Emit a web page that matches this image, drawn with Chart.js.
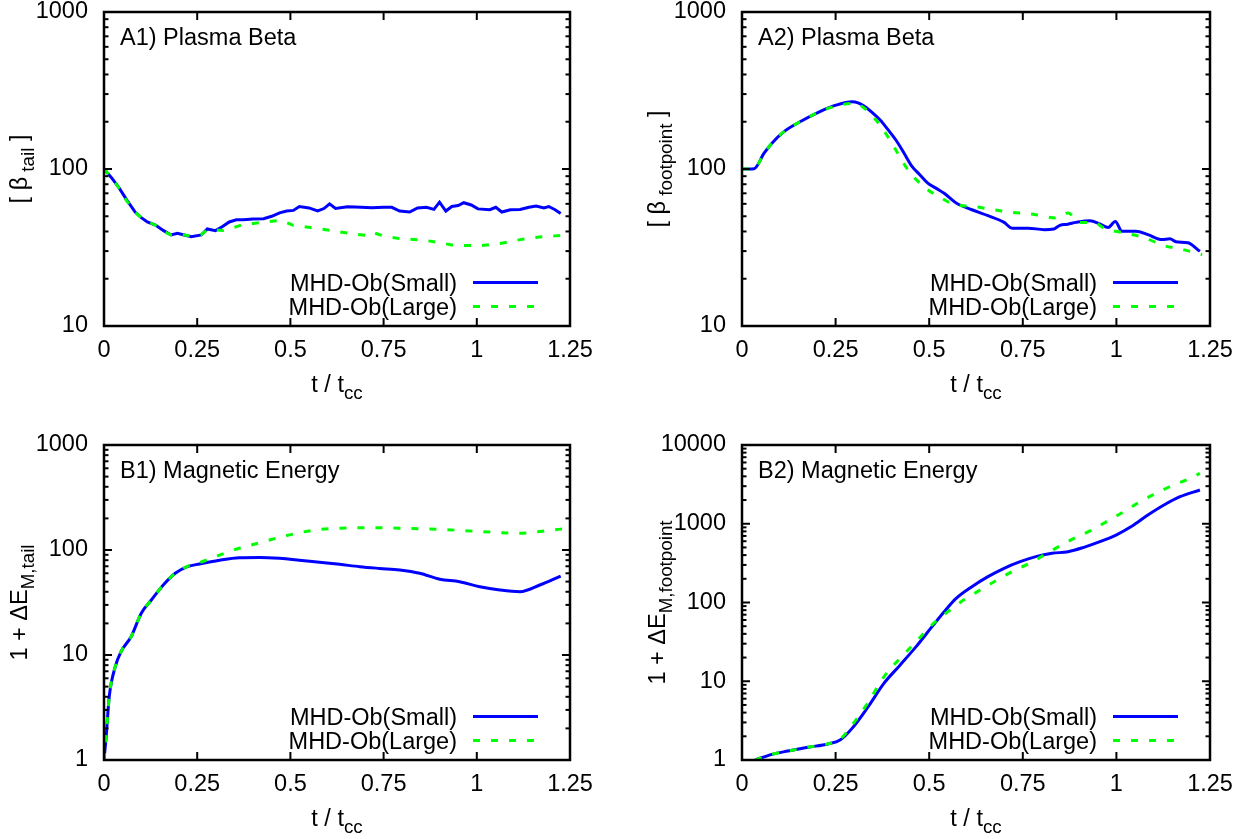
<!DOCTYPE html>
<html>
<head>
<meta charset="utf-8">
<title>Plasma beta and magnetic energy</title>
<script src="https://cdn.jsdelivr.net/npm/chart.js@4.4.1/dist/chart.umd.min.js"></script>
<style>
  html, body { margin: 0; padding: 0; background: #fff; }
  #wrap { position: relative; width: 1238px; height: 839px; overflow: hidden; }
  canvas { position: absolute; }
</style>
</head>
<body>
<div id="wrap">
  <canvas id="chartA1" width="619" height="420" style="left:0;top:0"></canvas>
  <canvas id="chartA2" width="619" height="420" style="left:619px;top:0"></canvas>
  <canvas id="chartB1" width="619" height="419" style="left:0;top:420px"></canvas>
  <canvas id="chartB2" width="619" height="419" style="left:619px;top:420px"></canvas>
</div>
<script>
// series labels and x ticks
const seriesLabels = ['MHD-Ob(Small)', 'MHD-Ob(Large)'];
const xTicks = [0, 0.25, 0.5, 0.75, 1, 1.25];

// A1) plasma beta, tail
const tA1Small = [0, 0.02, 0.04, 0.06, 0.084, 0.1, 0.116, 0.138, 0.16, 0.18, 0.197, 0.215, 0.234, 0.261, 0.277, 0.299, 0.318, 0.336, 0.355, 0.374, 0.4, 0.428, 0.45, 0.471, 0.49, 0.508, 0.524, 0.55, 0.573, 0.59, 0.605, 0.621, 0.653, 0.69, 0.718, 0.75, 0.772, 0.793, 0.82, 0.841, 0.865, 0.885, 0.9, 0.917, 0.933, 0.95, 0.965, 0.985, 1.003, 1.035, 1.051, 1.067, 1.09, 1.116, 1.14, 1.159, 1.18, 1.193, 1.21, 1.225];
const a1Small = [100, 88, 76, 64, 53, 49, 46, 44, 40.5, 38, 39, 38, 37, 38, 41.5, 40.5, 43, 46, 47.5, 47.5, 48, 48.2, 50, 52.6, 54, 54.5, 57.7, 56.5, 54, 56, 60, 56, 57.5, 57, 56.6, 57, 57, 54, 53.2, 56.5, 57, 55.3, 61.5, 54, 57.7, 58.5, 61, 59, 55.7, 55, 57, 53.2, 55, 55.3, 57, 58, 56.5, 57.7, 55, 52];
const tA1Large = [0, 0.02, 0.04, 0.06, 0.084, 0.1, 0.12, 0.14, 0.16, 0.18, 0.2, 0.23, 0.26, 0.277, 0.3, 0.32, 0.35, 0.374, 0.4, 0.428, 0.45, 0.476, 0.508, 0.557, 0.61, 0.664, 0.702, 0.718, 0.75, 0.793, 0.858, 0.9, 0.933, 0.97, 1.008, 1.062, 1.116, 1.169, 1.21, 1.25];
const a1Large = [100, 88, 76, 63, 53, 49, 46, 43.5, 40, 38, 38.5, 37.5, 38, 41, 41, 40.6, 42.5, 44.4, 45, 45.9, 46.5, 47, 43.8, 42.3, 40.6, 38.7, 37.8, 39.6, 37.5, 36, 35.2, 34, 32.8, 32.6, 32.4, 33.5, 35.5, 36.9, 37.5, 38];

// A2) plasma beta, footpoint
const tA2Small = [0, 0.032, 0.059, 0.08, 0.112, 0.155, 0.208, 0.251, 0.294, 0.31, 0.326, 0.345, 0.369, 0.39, 0.411, 0.433, 0.454, 0.475, 0.497, 0.52, 0.54, 0.572, 0.614, 0.657, 0.7, 0.721, 0.764, 0.807, 0.833, 0.849, 0.87, 0.892, 0.929, 0.956, 0.978, 0.997, 1.015, 1.052, 1.084, 1.122, 1.143, 1.159, 1.191, 1.223];
const a2Small = [100, 100.5, 126, 146, 173, 200, 232, 255, 268, 264, 252, 232, 205, 178, 153, 126, 104, 92, 81, 75, 70, 60.7, 55, 50.4, 45.7, 42, 42, 41.1, 41.5, 43.8, 44.5, 45.7, 46.9, 44.7, 42.4, 46.3, 40.1, 40.1, 38.2, 35.5, 35.9, 34.4, 33.9, 29.9];
const tA2Large = [0, 0.032, 0.059, 0.08, 0.112, 0.155, 0.208, 0.251, 0.294, 0.315, 0.337, 0.369, 0.39, 0.411, 0.443, 0.486, 0.529, 0.572, 0.614, 0.7, 0.785, 0.839, 0.871, 0.903, 0.94, 0.967, 1.02, 1.074, 1.127, 1.17, 1.229];
const a2Large = [100, 100.5, 126, 146, 173, 200, 232, 252, 261, 255, 232, 190, 160, 132, 99, 77, 66, 59, 57.8, 53.7, 51.2, 48.7, 52.5, 45.7, 45.7, 42, 39.2, 36.6, 32.5, 31, 28.5];

// B1) magnetic energy, tail
const tB1Small = [0, 0.006, 0.014, 0.03, 0.046, 0.073, 0.1, 0.127, 0.159, 0.191, 0.224, 0.256, 0.31, 0.363, 0.417, 0.471, 0.524, 0.578, 0.632, 0.686, 0.739, 0.793, 0.847, 0.901, 0.954, 1.008, 1.062, 1.116, 1.169, 1.225];
const b1Small = [1, 1.7, 4, 7.7, 10.8, 15, 25, 33.4, 46.4, 60, 69.4, 73.6, 80, 84.5, 85, 83.3, 80, 76.4, 73, 69.4, 66.8, 64.5, 60, 52.6, 49.9, 44.7, 41.6, 40.1, 46.4, 56.5];
const tB1Large = [0, 0.006, 0.014, 0.03, 0.046, 0.073, 0.1, 0.127, 0.159, 0.191, 0.224, 0.256, 0.31, 0.363, 0.417, 0.471, 0.524, 0.578, 0.632, 0.686, 0.739, 0.793, 0.901, 1.008, 1.116, 1.169, 1.245];
const b1Large = [1, 1.7, 4, 7.7, 10.8, 15, 25, 33.4, 46.4, 60, 70, 75.7, 89.5, 104, 117, 132, 146, 157, 161, 163, 163, 161, 157, 150, 144, 150, 161];

// B2) magnetic energy, footpoint
const tB2Small = [0.035, 0.08, 0.123, 0.176, 0.23, 0.262, 0.294, 0.337, 0.379, 0.422, 0.465, 0.507, 0.54, 0.572, 0.614, 0.657, 0.7, 0.743, 0.785, 0.828, 0.871, 0.913, 0.956, 0.999, 1.042, 1.084, 1.127, 1.17, 1.223];
const b2Small = [1.0, 1.18, 1.3, 1.45, 1.6, 1.79, 2.52, 4.75, 9.4, 16, 27.5, 49, 76.5, 113, 159, 213, 272, 330, 382, 421, 442, 502, 592, 719, 936, 1290, 1730, 2206, 2685];
const tB2Large = [0.035, 0.08, 0.123, 0.176, 0.23, 0.262, 0.294, 0.337, 0.379, 0.422, 0.465, 0.507, 0.55, 0.593, 0.636, 0.678, 0.721, 0.764, 0.807, 0.849, 0.892, 0.935, 0.978, 1.02, 1.063, 1.106, 1.148, 1.191, 1.223];
const b2Large = [1.0, 1.18, 1.3, 1.45, 1.6, 1.83, 2.78, 5.4, 11.4, 19.5, 31.8, 51.8, 76.5, 108, 144, 189, 246, 308, 401, 522, 672, 834, 1094, 1423, 1905, 2432, 3046, 3666, 4368];

const FONT = '"Liberation Sans", Arial, sans-serif';
const FS = 23.5;

// draws text made of [text, isSubscript] pieces, centred on x
function drawRich(ctx, parts, x, y) {
    const widths = parts.map(([txt, sub]) => {
        ctx.font = `${sub ? FS * 0.8 : FS}px ${FONT}`;
        return ctx.measureText(txt).width;
    });
    let cx = x - widths.reduce((a, b) => a + b, 0) / 2;
    parts.forEach(([txt, sub], i) => {
        ctx.font = `${sub ? FS * 0.8 : FS}px ${FONT}`;
        ctx.fillText(txt, cx, y + (sub ? FS * 0.3 : 0));
        cx += widths[i];
    });
}

// gnuplot-like frame: border, inward ticks, titles and legend
const gnuplotFrame = {
    id: 'gnuplotFrame',
    afterDatasetsDraw(chart, args, opts) {
        const { ctx, chartArea: a } = chart;
        const xs = chart.scales.x, ys = chart.scales.y;
        ctx.save();
        ctx.strokeStyle = '#000';
        ctx.fillStyle = '#000';

        ctx.lineWidth = 2;
        const tick = (x1, y1, x2, y2) => {
            ctx.beginPath(); ctx.moveTo(x1, y1); ctx.lineTo(x2, y2); ctx.stroke();
        };
        xs.ticks.forEach(t => {
            const px = xs.getPixelForValue(t.value);
            tick(px, a.bottom, px, a.bottom - 8);
            tick(px, a.top, px, a.top + 8);
        });
        ys.ticks.forEach(t => {
            for (let k = 1; k < 10; k++) {
                const v = t.value * k;
                if (v > ys.max) break;
                const py = ys.getPixelForValue(v);
                const len = k === 1 ? 8 : 4.5;
                tick(a.left, py, a.left + len, py);
                tick(a.right, py, a.right - len, py);
            }
        });

        ctx.lineWidth = 2.5;
        ctx.strokeRect(a.left, a.top, a.right - a.left, a.bottom - a.top);

        ctx.textBaseline = 'alphabetic';
        ctx.textAlign = 'left';
        ctx.font = `${FS}px ${FONT}`;
        ctx.fillText(opts.title, a.left + 16, a.top + 33);

        drawRich(ctx, opts.xTitle, (a.left + a.right) / 2, a.bottom + 66);

        ctx.save();
        ctx.translate(a.left - 77, (a.top + a.bottom) / 2);
        ctx.rotate(-Math.PI / 2);
        drawRich(ctx, opts.yTitle, 0, 0);
        ctx.restore();

        // legend, bottom right
        chart.data.datasets.forEach((ds, i) => {
            const ry = a.bottom - 43.5 + i * 24;
            ctx.font = `${FS}px ${FONT}`;
            ctx.textAlign = 'right';
            ctx.fillText(ds.label, a.right - 113, ry + 8);
            ctx.strokeStyle = ds.borderColor;
            ctx.lineWidth = ds.borderWidth;
            ctx.setLineDash(ds.borderDash || []);
            tick(a.right - 97, ry, a.right - 32, ry);
            ctx.setLineDash([]);
        });
        ctx.restore();
    }
};

function makeSeries(t, v) {
    return t.map((x, i) => ({ x: x, y: v[i] }));
}

function buildPanel(id, cfg) {
    const ctx = document.getElementById(id).getContext('2d');
    return new Chart(ctx, {
        type: 'line',
        data: {
            datasets: [
                {
                    label: seriesLabels[0],
                    data: makeSeries(cfg.tSmall, cfg.small),
                    borderColor: '#0000ff',
                    borderWidth: 3,
                    cubicInterpolationMode: cfg.smooth ? 'monotone' : 'default',
                    tension: 0,
                    order: 1
                },
                {
                    label: seriesLabels[1],
                    data: makeSeries(cfg.tLarge, cfg.large),
                    borderColor: '#00ff00',
                    borderWidth: 3,
                    borderDash: [7, 11],
                    cubicInterpolationMode: cfg.smooth ? 'monotone' : 'default',
                    tension: 0,
                    order: 0
                }
            ]
        },
        options: {
            responsive: false,
            animation: false,
            devicePixelRatio: 1,
            elements: { point: { radius: 0 } },
            layout: { padding: { left: 0, right: cfg.padRight, top: cfg.padTop, bottom: 0 } },
            plugins: {
                legend: { display: false },
                tooltip: { enabled: false },
                gnuplotFrame: { title: cfg.title, xTitle: [['t / t', false], ['cc', true]], yTitle: cfg.yTitle }
            },
            scales: {
                x: {
                    type: 'linear',
                    min: 0,
                    max: 1.25,
                    afterBuildTicks: s => { s.ticks = xTicks.map(v => ({ value: v })); },
                    afterFit: s => { s.height = cfg.xHeight; s.paddingLeft = 0; s.paddingRight = 0; },
                    ticks: { color: '#000', padding: 10.5, maxRotation: 0, callback: v => String(v), font: { family: FONT, size: FS } },
                    grid: { display: false, drawTicks: false },
                    border: { display: false }
                },
                y: {
                    type: 'logarithmic',
                    min: cfg.yTicks[0],
                    max: cfg.yTicks[cfg.yTicks.length - 1],
                    afterBuildTicks: s => { s.ticks = cfg.yTicks.map(v => ({ value: v })); },
                    afterFit: s => { s.width = cfg.yWidth; s.paddingTop = 0; s.paddingBottom = 0; },
                    ticks: { color: '#000', padding: 16, callback: v => String(v), font: { family: FONT, size: FS } },
                    grid: { display: false, drawTicks: false },
                    border: { display: false }
                }
            }
        },
        plugins: [gnuplotFrame]
    });
}

buildPanel('chartA1', {
    title: 'A1) Plasma Beta',
    yTitle: [['[ β', false], [' tail', true], [' ]', false]],
    tSmall: tA1Small, small: a1Small, tLarge: tA1Large, large: a1Large,
    yTicks: [10, 100, 1000], smooth: false,
    yWidth: 104, padRight: 49, padTop: 12, xHeight: 94
});
buildPanel('chartA2', {
    title: 'A2) Plasma Beta',
    yTitle: [['[ β', false], [' footpoint', true], [' ]', false]],
    tSmall: tA2Small, small: a2Small, tLarge: tA2Large, large: a2Large,
    yTicks: [10, 100, 1000], smooth: true,
    yWidth: 123, padRight: 28, padTop: 12, xHeight: 94
});
buildPanel('chartB1', {
    title: 'B1) Magnetic Energy',
    yTitle: [['1 + ΔE', false], ['M,tail', true]],
    tSmall: tB1Small, small: b1Small, tLarge: tB1Large, large: b1Large,
    yTicks: [1, 10, 100, 1000], smooth: true,
    yWidth: 104, padRight: 49, padTop: 25, xHeight: 79
});
buildPanel('chartB2', {
    title: 'B2) Magnetic Energy',
    yTitle: [['1 + ΔE', false], ['M,footpoint', true]],
    tSmall: tB2Small, small: b2Small, tLarge: tB2Large, large: b2Large,
    yTicks: [1, 10, 100, 1000, 10000], smooth: true,
    yWidth: 123, padRight: 28, padTop: 25, xHeight: 79
});
</script>
</body>
</html>
